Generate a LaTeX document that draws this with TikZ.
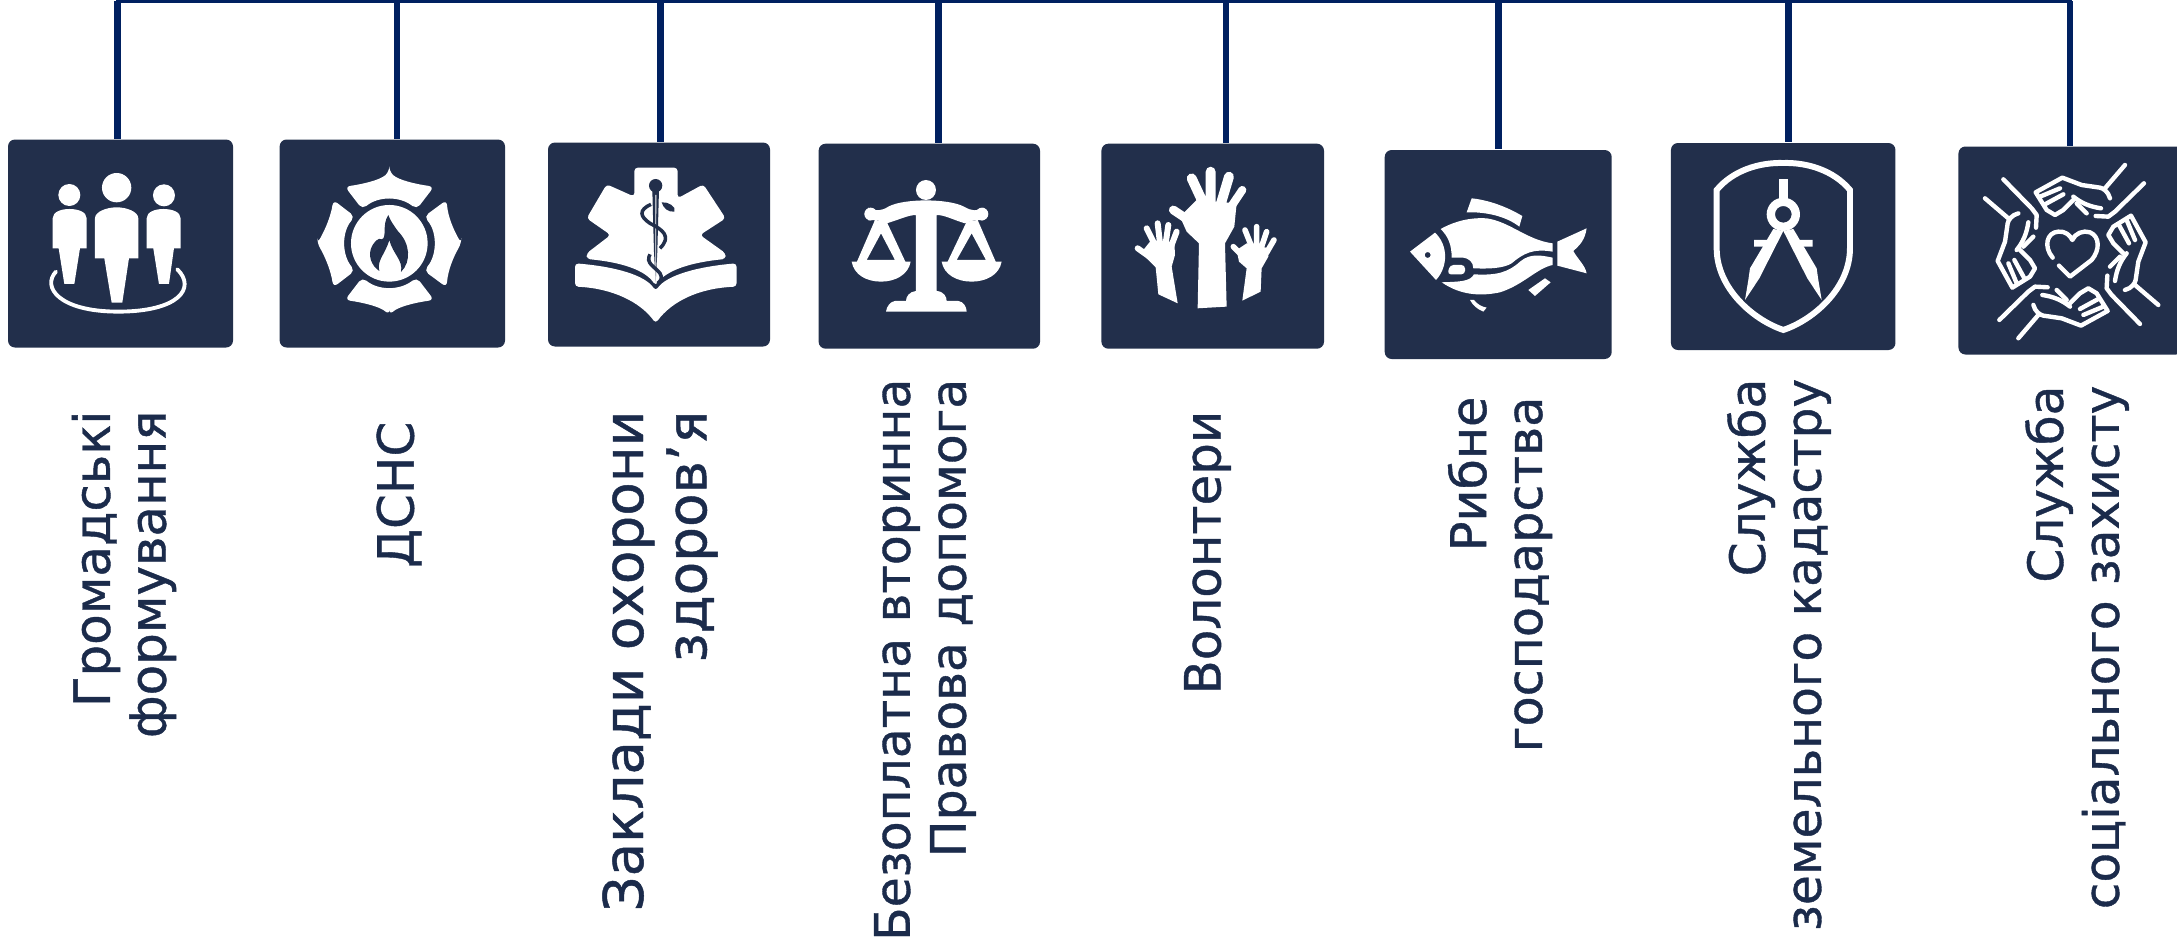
\documentclass[tikz,border=0pt]{standalone}
\usepackage{fontspec}
\setmainfont{DejaVu Sans}[FakeBold=0.8]
\usepackage{tikz}
\definecolor{boxblue}{HTML}{222F4B}
\definecolor{linenavy}{HTML}{002060}
\definecolor{textblue}{HTML}{1B2B4B}
\tikzset{
  iconbox/.style={fill=boxblue,rounded corners=0.07cm,inner sep=0pt},
  stem/.style={draw=linenavy,line width=0.066cm},
  trunk/.style={draw=linenavy,line width=0.03cm,line cap=rect},
  caption/.style={rotate=90,anchor=east,align=right,inner sep=0pt,text=textblue,font=\fontsize{14.2}{15.9}\selectfont},
  icon/.style={x=0.03333mm,y=-0.03333mm},
  iconline/.style={draw=white,line width=1.1pt,line cap=round,line join=round},
  handline/.style={draw=white,line width=1.25pt,line cap=round,line join=round},
}
\begin{document}
\begin{tikzpicture}
  \useasboundingbox (0,0) rectangle (21.77,9.43);
  \node[iconbox,minimum width=2.25cm,minimum height=2.08cm] (grom) at (1.205,6.995) {};
  \node[iconbox,minimum width=2.254cm,minimum height=2.08cm] (dsns) at (3.923,6.995) {};
  \node[iconbox,minimum width=2.22cm,minimum height=2.04cm] (likar) at (6.59,6.985) {};
  \node[iconbox,minimum width=2.214cm,minimum height=2.05cm] (pravo) at (9.293,6.968) {};
  \node[iconbox,minimum width=2.226cm,minimum height=2.05cm] (volont) at (12.127,6.968) {};
  \node[iconbox,minimum width=2.27cm,minimum height=2.09cm] (ryba) at (14.982,6.885) {};
  \node[iconbox,minimum width=2.245cm,minimum height=2.07cm] (kadastr) at (17.832,6.965) {};
  \node[iconbox,minimum width=2.245cm,minimum height=2.08cm] (sots) at (20.707,6.925) {};

  \coordinate (t1) at (1.174,9.415);
  \coordinate (t2) at (3.97,9.415);
  \coordinate (t3) at (6.607,9.415);
  \coordinate (t4) at (9.384,9.415);
  \coordinate (t5) at (12.258,9.415);
  \coordinate (t6) at (14.985,9.415);
  \coordinate (t7) at (17.884,9.415);
  \coordinate (t8) at (20.70,9.415);
  \draw[trunk] (t1) -- (t8);
  \draw[stem] (t1) -- (t1 |- grom.north);
  \draw[stem] (t2) -- (t2 |- dsns.north);
  \draw[stem] (t3) -- (t3 |- likar.north);
  \draw[stem] (t4) -- (t4 |- pravo.north);
  \draw[stem] (t5) -- (t5 |- volont.north);
  \draw[stem] (t6) -- (t6 |- ryba.north);
  \draw[stem] (t7) -- (t7 |- kadastr.north);
  \draw[stem] (t8) -- (t8 |- sots.north);

  \node[caption] (gromtext) at (1.24,5.33) {Громадські\\формування};
  \node[caption] (dsnstext) at (3.99,5.22) {ДСНС};
  \node[caption] (likartext) at (6.60,5.33) [font=\fontsize{15.6}{18}\selectfont] {Заклади охорони\\здоров’я};
  \node[caption] (pravotext) at (9.25,5.65) [font=\fontsize{13.9}{15.9}\selectfont] {Безоплатна вторинна\\Правова допомога};
  \node[caption] (volonttext) at (12.075,5.33) {Волонтери};
  \node[caption] (rybatext) at (15.00,5.47) [font=\fontsize{14}{15.9}\selectfont] {Рибне\\господарства};
  \node[caption] (kadastrtext) at (17.79,5.65) [font=\fontsize{13.85}{15.9}\selectfont] {Служба\\земельного кадастру};
  \node[caption] (sotstext) at (20.77,5.58) [font=\fontsize{13.8}{15.9}\selectfont] {Служба\\соціального захисту};

  \begin{scope}[shift={(0.30,7.83)},icon]
    \fill[white] (118,105) circle (33) (260,83) circle (44) (402,106) circle (33);
    \fill[white] (68,265) -- (68,175) .. controls (68,155) and (95,147) .. (118,147) .. controls (143,147) and (170,155) .. (170,175) -- (170,265) -- (150,265) -- (133,372) -- (103,372) -- (86,265) -- cycle;
    \fill[white] (195,295) -- (195,175) .. controls (195,155) and (230,142) .. (260,142) .. controls (290,142) and (325,155) .. (325,175) -- (325,295) -- (297,295) -- (277,428) -- (245,428) -- (223,295) -- cycle;
    \fill[white] (350,265) -- (350,175) .. controls (350,155) and (377,147) .. (400,147) .. controls (425,147) and (452,155) .. (452,175) -- (452,265) -- (432,265) -- (417,372) -- (387,372) -- (370,265) -- cycle;
    \draw[iconline] (78,335) .. controls (35,380) and (85,455) .. (265,455) .. controls (445,455) and (500,385) .. (442,328);
  \end{scope}

  \begin{scope}[shift={(3.00,7.83)},icon]
    \fill[white,rounded corners=1.5pt] (268,35) .. controls (240,60) and (190,72) .. (135,80) -- (187,148) .. controls (235,108) and (300,108) .. (350,148) -- (402,80) .. controls (345,72) and (296,60) .. (268,35) -- cycle;
    \fill[white,rounded corners=1.5pt] (268,465) .. controls (240,440) and (190,428) .. (135,420) -- (187,352) .. controls (235,392) and (300,392) .. (350,352) -- (402,420) .. controls (345,428) and (296,440) .. (268,465) -- cycle;
    \fill[white,rounded corners=1.5pt] (52,250) .. controls (75,210) and (92,170) .. (100,120) -- (165,170) .. controls (125,215) and (125,285) .. (165,332) -- (100,382) .. controls (92,330) and (75,290) .. (52,250) -- cycle;
    \fill[white,rounded corners=1.5pt] (484,250) .. controls (461,210) and (444,170) .. (440,120) -- (372,170) .. controls (412,215) and (412,285) .. (372,332) -- (440,382) .. controls (444,330) and (461,290) .. (484,250) -- cycle;
    \fill[white] (268,250) circle (115);
    \fill[boxblue] (265,165) .. controls (245,195) and (262,235) .. (245,238) .. controls (235,232) and (225,245) .. (218,255) .. controls (200,285) and (215,318) .. (238,333) .. controls (230,300) and (255,285) .. (268,240) .. controls (280,285) and (310,300) .. (303,336) .. controls (335,305) and (330,250) .. (295,215) .. controls (280,195) and (270,180) .. (265,165) -- cycle;
  \end{scope}

  \begin{scope}[shift={(5.65,7.88)},icon]
    \fill[white,rounded corners=1pt] (208,125) -- (208,38) -- (338,38) -- (338,130) -- (415,88) -- (482,190) -- (405,240) -- (482,295) -- (482,312) .. controls (380,322) and (305,345) .. (272,392) .. controls (240,345) and (170,322) .. (65,312) -- (65,295) -- (137,240) -- (65,190) -- (125,88) -- cycle;
    \fill[white,rounded corners=1pt] (30,325) .. controls (150,335) and (240,360) .. (272,408) .. controls (305,360) and (400,335) .. (515,325) -- (515,395) .. controls (400,400) and (320,440) .. (272,505) .. controls (225,440) and (140,400) .. (30,395) -- cycle;
    \fill[boxblue] (272,92) circle (20);
    \fill[boxblue] (262,105) -- (282,105) -- (277,290) -- (272,385) -- (267,290) -- cycle;
    \fill[white] (271,120) -- (274,120) -- (273,385) -- (271,385) -- cycle;
    \draw[boxblue,line width=1pt] (258,148) .. controls (220,165) and (225,185) .. (255,205) .. controls (295,225) and (320,245) .. (285,280);
    \draw[boxblue,line width=1pt] (255,298) .. controls (240,325) and (270,335) .. (285,355) .. controls (295,370) and (285,380) .. (278,385);
    \fill[boxblue] (290,142) .. controls (310,140) and (335,155) .. (328,170) .. controls (310,172) and (295,160) .. (290,142) -- cycle;
  \end{scope}

  \begin{scope}[shift={(8.40,7.78)},icon]
    \fill[white] (258,75) circle (30) (92,147) circle (19) (426,147) circle (19);
    \fill[white] (85,128) .. controls (105,140) and (125,138) .. (145,125) .. controls (190,100) and (325,100) .. (372,125) .. controls (395,138) and (410,140) .. (430,128) -- (430,166) .. controls (410,165) and (395,165) .. (375,175) .. controls (340,165) and (315,150) .. (290,150) -- (290,378) .. controls (312,380) and (320,395) .. (320,408) -- (355,408) .. controls (370,410) and (380,425) .. (380,440) -- (138,440) .. controls (140,425) and (150,410) .. (165,408) -- (198,408) .. controls (198,395) and (208,380) .. (228,378) -- (228,150) .. controls (205,150) and (175,165) .. (140,175) .. controls (120,165) and (105,165) .. (85,166) -- cycle;
    \fill[white] (35,290) -- (212,290) .. controls (205,330) and (165,350) .. (123,350) .. controls (80,350) and (42,330) .. (35,290) -- cycle;
    \fill[white] (305,290) -- (485,290) .. controls (478,330) and (438,350) .. (395,350) .. controls (352,350) and (312,330) .. (305,290) -- cycle;
    \fill[white,even odd rule] (105,165) -- (140,170) -- (197,292) -- (50,292) -- cycle (123,205) -- (80,285) -- (165,285) -- cycle;
    \fill[white,even odd rule] (380,170) -- (413,165) -- (468,292) -- (322,292) -- cycle (395,205) -- (350,285) -- (438,285) -- cycle;
  \end{scope}

  \begin{scope}[shift={(11.25,7.83)},icon]
    \draw[white,line width=2.8pt,line cap=round] (200,55) -- (235,130) (257,35) -- (257,130) (312,50) -- (288,130);
    \draw[white,line width=2.3pt,line cap=round] (352,90) -- (315,145);
    \draw[white,line width=2.5pt,line cap=round] (145,150) -- (205,190);
    \fill[white] (215,120) -- (335,130) -- (328,200) -- (300,250) -- (305,440) -- (218,445) -- (222,250) -- (185,215) -- (165,170) -- cycle;
    \draw[white,line width=1.7pt,line cap=round] (65,205) -- (90,255) (98,190) -- (105,250) (130,195) -- (122,250) (155,215) -- (138,260);
    \draw[white,line width=1.7pt,line cap=round] (38,265) -- (80,295);
    \fill[white] (75,245) -- (148,245) -- (150,285) -- (140,320) -- (158,430) -- (100,403) -- (92,322) -- (65,295) -- (55,270) -- cycle;
    \draw[white,line width=1.6pt,line cap=round] (360,210) -- (380,260) (395,200) -- (395,255) (425,215) -- (410,260) (447,240) -- (425,278);
    \draw[white,line width=1.6pt,line cap=round] (325,260) -- (355,290);
    \fill[white] (365,250) -- (432,265) -- (430,290) -- (410,325) -- (407,395) -- (352,422) -- (365,325) -- (342,305) -- (335,270) -- cycle;
  \end{scope}

  \begin{scope}[shift={(14.00,7.58)},icon]
    \fill[white] (215,40) .. controls (265,45) and (320,65) .. (367,93) -- (358,125) .. controls (320,95) and (260,80) .. (200,82) -- cycle;
    \fill[white,even odd rule] (30,200) -- (105,143) .. controls (145,180) and (145,245) .. (108,285) -- cycle (83,210) circle (9);
    \fill[white] (122,132) .. controls (170,105) and (220,97) .. (260,100) .. controls (330,110) and (380,165) .. (458,175) -- (458,200) .. controls (400,190) and (370,205) .. (335,235) .. controls (310,250) and (270,252) .. (220,250) .. controls (220,230) and (205,220) .. (190,218) -- (155,218) .. controls (155,180) and (145,155) .. (122,132) -- cycle;
    \fill[white,rounded corners=1pt] (150,240) -- (195,240) -- (195,268) -- (142,268) -- cycle;
    \fill[white] (125,292) .. controls (180,290) and (210,290) .. (222,268) .. controls (290,272) and (325,262) .. (360,230) .. controls (390,205) and (420,210) .. (458,218) -- (458,240) .. controls (410,250) and (370,300) .. (300,322) .. controls (240,335) and (180,330) .. (125,292) -- cycle;
    \fill[white] (472,170) -- (560,130) .. controls (555,165) and (540,180) .. (520,198) .. controls (535,225) and (555,240) .. (560,265) -- (472,242) -- cycle;
    \fill[white] (385,315) -- (435,280) -- (452,292) -- (405,333) -- cycle;
    \fill[white] (210,345) -- (222,345) .. controls (232,358) and (245,365) .. (260,368) -- (250,380) .. controls (230,372) and (218,360) .. (210,345) -- cycle;
  \end{scope}

  \begin{scope}[shift={(17.00,7.88)},icon]
    \draw[white,line width=1.7pt] (50,105) .. controls (100,45) and (180,22) .. (250,24) .. controls (320,22) and (400,45) .. (450,105) -- (450,280) .. controls (450,400) and (340,495) .. (250,525) .. controls (160,495) and (50,400) .. (50,280) -- cycle;
    \fill[white] (236,72) rectangle (265,135);
    \fill[white,even odd rule] (250,178) circle (50) (250,178) circle (25);
    \fill[white] (220,222) -- (150,340) -- (145,375) -- (135,435) -- (178,370) -- (250,228) -- cycle;
    \fill[white] (280,222) -- (350,340) -- (355,375) -- (365,435) -- (322,370) -- (250,228) -- cycle;
    \fill[white] (162,255) rectangle (205,275) (295,255) rectangle (338,275);
  \end{scope}

  \begin{scope}[shift={(19.75,7.88)},icon]
    \foreach \a in {0,90,180,270} {
      \begin{scope}[rotate around={\a:(290,290)}]
        \draw[handline] (507,85) -- (420,170) -- (400,185) -- (362,183);
        \draw[handline] (450,30) -- (390,100);
        \draw[handline] (405,130) .. controls (400,110) and (385,100) .. (375,98) -- (320,90) -- (262,68) -- (182,112) -- (215,165) -- (240,180) -- (265,165) -- (295,135);
        \draw[handline] (195,125) -- (255,100);
        \draw[handline] (210,148) -- (265,118);
        \draw[handline] (295,125) .. controls (320,145) and (345,155) .. (378,160);
        \draw[handline] (305,145) -- (335,175);
      \end{scope}
    }
    \draw[handline] (233,308) .. controls (205,275) and (215,232) .. (250,230) .. controls (270,228) and (285,240) .. (292,255) .. controls (300,235) and (325,225) .. (345,232) .. controls (375,245) and (375,285) .. (350,315) -- (285,365) -- (252,332);
  \end{scope}
\end{tikzpicture}
\end{document}
